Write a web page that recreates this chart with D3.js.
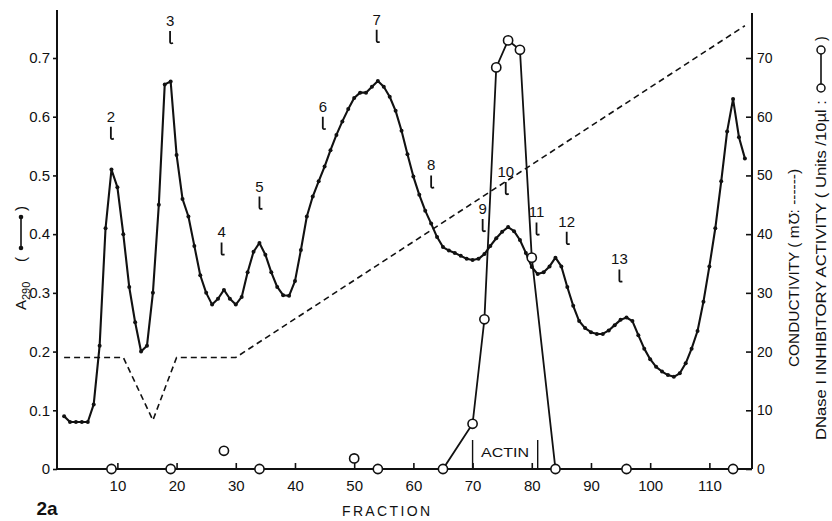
<!DOCTYPE html>
<html lang="en">
<head>
  <meta charset="UTF-8">
  <title>Fraction profile 2a</title>
  <style>
    * {
      margin: 0;
    }

    body {
      background: #fff;
    }

    svg {
      display: block;
    }

    text {
      font-family: "Liberation Sans Narrow", "Arial Narrow", "Liberation Sans", Arial, sans-serif;
      fill: #111;
    }
  </style>
</head>
<body>
  <div id="chart"></div>
  <script src="https://cdnjs.cloudflare.com/ajax/libs/d3/7.8.5/d3.min.js"></script>
  <script>
    // A290 readings, one per fraction starting at fraction 1
    const firstFraction = 1;
    const absorbance = [
      0.09, 0.08, 0.08, 0.08, 0.08, 0.11, 0.21, 0.41, 0.51, 0.48,
      0.40, 0.31, 0.25, 0.20, 0.21, 0.30, 0.45, 0.655, 0.66, 0.535,
      0.46, 0.43, 0.38, 0.33, 0.30, 0.28, 0.29, 0.305, 0.29, 0.28,
      0.293, 0.335, 0.37, 0.385, 0.365, 0.335, 0.31, 0.296, 0.295, 0.32,
      0.373, 0.43, 0.464, 0.49, 0.515, 0.543, 0.569, 0.592, 0.613, 0.632,
      0.641, 0.641, 0.651, 0.661, 0.651, 0.634, 0.61, 0.576, 0.536, 0.498,
      0.467, 0.44, 0.418, 0.395, 0.378, 0.372, 0.368, 0.363, 0.358, 0.356,
      0.358, 0.366, 0.38, 0.393, 0.404, 0.412, 0.405, 0.39, 0.368, 0.344,
      0.332, 0.335, 0.345, 0.36, 0.345, 0.31, 0.278, 0.252, 0.24, 0.233,
      0.23, 0.23, 0.236, 0.245, 0.254, 0.258, 0.252, 0.228, 0.205, 0.187,
      0.174, 0.166, 0.16, 0.157, 0.163, 0.18, 0.205, 0.235, 0.285, 0.345,
      0.41, 0.49, 0.575, 0.63, 0.565, 0.529
    ];

    // conductivity gradient (mU), dashed
    const condFractions = [1, 11, 16, 20, 30, 116];
    const condValues = [19, 19, 8.3, 19, 19, 75.5];

    // DNase I inhibitory activity (units / 10 ul), open circles
    const dnaseFractions = [9, 19, 34, 54, 65, 70, 72, 74, 76, 78, 80, 84, 96, 114];
    const dnaseValues = [0, 0, 0, 0, 0, 7.7, 25.5, 68.4, 73, 71.4, 36, 0, 0, 0];
    const strayFractions = [28, 50];
    const strayValues = [3.1, 1.8];

    // peak markers: label, fraction, A290 level of the number
    const peakNames = ['2', '3', '4', '5', '6', '7', '8', '9', '10', '11', '12', '13'];
    const peakFractions = [8.9, 18.9, 27.6, 34, 44.7, 53.8, 63, 71.7, 75.6, 80.8, 85.9, 94.8];
    const peakLevels = [0.600, 0.763, 0.403, 0.481, 0.617, 0.765, 0.517, 0.443, 0.506, 0.437, 0.421, 0.357];

    const actinRange = [70, 81];

    const leftTicks = [0, 0.1, 0.2, 0.3, 0.4, 0.5, 0.6, 0.7];
    const rightTicks = [0, 10, 20, 30, 40, 50, 60, 70];
    const xTicks = [10, 20, 30, 40, 50, 60, 70, 80, 90, 100, 110];

    const width = 832;
    const height = 521;
    const ink = '#111';

    const svg = d3.select('#chart')
      .append('svg')
      .attr('width', width)
      .attr('height', height);

    const x = d3.scaleLinear().domain([-0.2, 117.2]).range([57, 752]);
    const yA = d3.scaleLinear().domain([0, 0.7]).range([469, 58]);
    const yR = d3.scaleLinear().domain([0, 70]).range([469, 58]);

    // axes
    const left = svg.append('g')
      .attr('transform', `translate(${x(-0.2)},0)`)
      .call(d3.axisLeft(yA).tickValues(leftTicks).tickSize(4).tickPadding(3)
        .tickFormat(d => d === 0 ? '0' : d.toFixed(1)));
    const right = svg.append('g')
      .attr('transform', `translate(${x(117.2)},0)`)
      .call(d3.axisRight(yR).tickValues(rightTicks).tickSizeInner(-6).tickSizeOuter(0).tickPadding(5));
    const bottom = svg.append('g')
      .attr('transform', `translate(0,${yA(0)})`)
      .call(d3.axisBottom(x).tickValues(xTicks).tickSizeInner(-6).tickSizeOuter(0).tickPadding(11));

    [left, right, bottom].forEach(g => {
      g.select('.domain').remove();
      g.selectAll('line').attr('stroke', ink).attr('stroke-width', 1.6);
      g.selectAll('text').style('font-size', '15px').attr('fill', ink);
    });
    right.selectAll('text').style('font-family', '"Liberation Sans", Arial, sans-serif').style('font-size', '14px');

    svg.append('line')
      .attr('x1', x(-0.2)).attr('x2', x(-0.2))
      .attr('y1', 10).attr('y2', yA(0))
      .attr('stroke', ink).attr('stroke-width', 2);
    svg.append('line')
      .attr('x1', x(117.2)).attr('x2', x(117.2))
      .attr('y1', 13).attr('y2', yA(0))
      .attr('stroke', ink).attr('stroke-width', 2);
    svg.append('line')
      .attr('x1', x(-0.2)).attr('x2', x(117.2))
      .attr('y1', yA(0)).attr('y2', yA(0))
      .attr('stroke', ink).attr('stroke-width', 1.8);

    // conductivity (dashed)
    const condLine = d3.line()
      .x((d, i) => x(condFractions[i]))
      .y(d => yR(d));
    svg.append('path')
      .attr('d', condLine(condValues))
      .attr('fill', 'none')
      .attr('stroke', ink)
      .attr('stroke-width', 1.6)
      .attr('stroke-dasharray', '6,4');

    // A290 curve with small dots
    const aLine = d3.line()
      .x((d, i) => x(firstFraction + i))
      .y(d => yA(d));
    svg.append('path')
      .attr('d', aLine(absorbance))
      .attr('fill', 'none')
      .attr('stroke', ink)
      .attr('stroke-width', 2.1)
      .attr('stroke-linejoin', 'round');
    svg.append('g').selectAll('circle')
      .data(absorbance)
      .join('circle')
      .attr('cx', (d, i) => x(firstFraction + i))
      .attr('cy', d => yA(d))
      .attr('r', 2)
      .attr('fill', ink);

    // DNase activity (open circles)
    const dLine = d3.line()
      .x((d, i) => x(dnaseFractions[i]))
      .y(d => yR(d));
    svg.append('path')
      .attr('d', dLine(dnaseValues))
      .attr('fill', 'none')
      .attr('stroke', ink)
      .attr('stroke-width', 1.8);
    svg.append('g').selectAll('circle')
      .data(dnaseValues)
      .join('circle')
      .attr('cx', (d, i) => x(dnaseFractions[i]))
      .attr('cy', d => yR(d))
      .attr('r', 4.6)
      .attr('fill', '#fff')
      .attr('stroke', ink)
      .attr('stroke-width', 1.6);
    svg.append('g').selectAll('circle')
      .data(strayValues)
      .join('circle')
      .attr('cx', (d, i) => x(strayFractions[i]))
      .attr('cy', d => yR(d))
      .attr('r', 4.6)
      .attr('fill', '#fff')
      .attr('stroke', ink)
      .attr('stroke-width', 1.6);

    // actin bracket
    const actin = svg.append('g');
    actinRange.forEach(f => {
      actin.append('line')
        .attr('x1', x(f)).attr('x2', x(f))
        .attr('y1', 440).attr('y2', yA(0))
        .attr('stroke', ink).attr('stroke-width', 1.4);
    });
    actin.append('text')
      .attr('x', x((actinRange[0] + actinRange[1]) / 2))
      .attr('y', 457)
      .attr('text-anchor', 'middle')
      .attr('textLength', 48)
      .attr('lengthAdjust', 'spacingAndGlyphs')
      .style('font-size', '13px')
      .style('font-family', '"Liberation Sans", Arial, sans-serif')
      .text('ACTIN');

    // peak numbers with little arrows
    const peaks = svg.append('g');
    peakNames.forEach((name, i) => {
      const px = x(peakFractions[i]);
      const py = yA(peakLevels[i]);
      peaks.append('text')
        .attr('x', px)
        .attr('y', py + 5)
        .attr('text-anchor', 'middle')
        .style('font-size', '15px')
        .text(name);
      peaks.append('path')
        .attr('d', `M${px},${py + 10} V${py + 21} Q${px},${py + 23} ${px + 3},${py + 22}`)
        .attr('fill', 'none')
        .attr('stroke', ink)
        .attr('stroke-width', 1.8);
    });

    // x title and figure tag
    svg.append('text')
      .attr('x', 386)
      .attr('y', 516)
      .attr('text-anchor', 'middle')
      .attr('textLength', 88)
      .attr('lengthAdjust', 'spacing')
      .style('font-size', '14px')
      .style('font-family', '"Liberation Sans", Arial, sans-serif')
      .text('FRACTION');
    svg.append('text')
      .attr('x', 47)
      .attr('y', 515)
      .attr('text-anchor', 'middle')
      .style('font-size', '19px')
      .style('font-weight', 'bold')
      .style('font-family', '"Liberation Sans", Arial, sans-serif')
      .text('2a');

    // left axis title: A290 (dot-line)
    const lt = svg.append('g').attr('transform', 'translate(21,256) rotate(-90)');
    lt.append('text').attr('x', -54).attr('y', 5).style('font-size', '15px').text('A');
    lt.append('text').attr('x', -44).attr('y', 9).style('font-size', '11px').text('290');
    lt.append('text').attr('x', -6).attr('y', 5).style('font-size', '15px').text('(');
    lt.append('line').attr('x1', 8).attr('x2', 39).attr('y1', 0).attr('y2', 0)
      .attr('stroke', ink).attr('stroke-width', 1.6);
    lt.selectAll('circle.k').data([8, 39]).join('circle')
      .attr('cx', d => d).attr('cy', 0).attr('r', 2.3).attr('fill', ink);
    lt.append('text').attr('x', 45).attr('y', 5).style('font-size', '15px').text(')');

    // right axis titles
    svg.append('g').attr('transform', 'translate(799,367) rotate(-90)')
      .append('text')
      .attr('x', 0).attr('y', 0)
      .attr('textLength', 198)
      .attr('lengthAdjust', 'spacingAndGlyphs')
      .style('font-size', '14px')
      .style('font-family', '"Liberation Sans", Arial, sans-serif')
      .text('CONDUCTIVITY ( m\u2127: ------)');

    const rt = svg.append('g').attr('transform', 'translate(826,440) rotate(-90)');
    rt.append('text')
      .attr('x', 0).attr('y', 0)
      .attr('textLength', 340)
      .attr('lengthAdjust', 'spacingAndGlyphs')
      .style('font-size', '14px')
      .style('font-family', '"Liberation Sans", Arial, sans-serif')
      .text('DNase I  INHIBITORY  ACTIVITY  ( Units /10\u00b5l :');
    rt.append('line').attr('x1', 352).attr('x2', 390).attr('y1', -5).attr('y2', -5)
      .attr('stroke', ink).attr('stroke-width', 1.6);
    rt.selectAll('circle').data([352, 390]).join('circle')
      .attr('cx', d => d).attr('cy', -5).attr('r', 4)
      .attr('fill', '#fff').attr('stroke', ink).attr('stroke-width', 1.5);
    rt.append('text')
      .attr('x', 399).attr('y', 0)
      .style('font-size', '14px')
      .style('font-family', '"Liberation Sans", Arial, sans-serif')
      .text(')');
  </script>
</body>
</html>
